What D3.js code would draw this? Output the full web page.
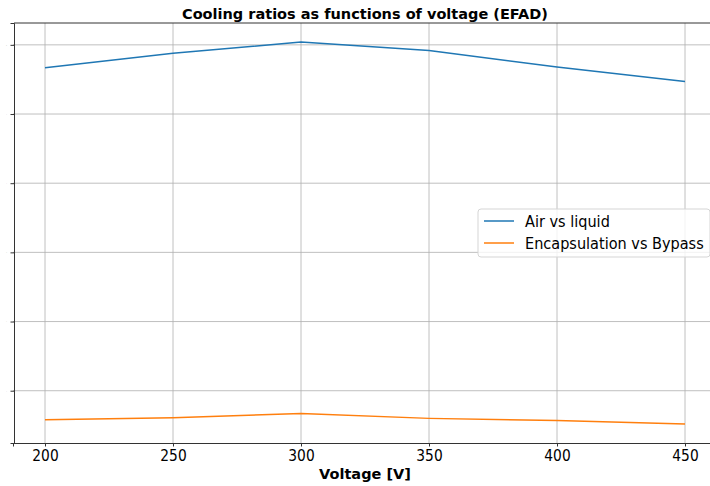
<!DOCTYPE html>
<html>
<head>
<meta charset="utf-8">
<script src="https://cdn.jsdelivr.net/npm/d3@7"></script>
<style>
  html, body { margin: 0; padding: 0; background: #fff; }
  svg { display: block; font-family: "DejaVu Sans", sans-serif; }
</style>
</head>
<body>
<svg id="chart" width="710" height="486"></svg>
<script>
// Voltage sweep and the two cooling-ratio series
const voltages = [200, 250, 300, 350, 400, 450];
const airVsLiquid = [5.67, 5.88, 6.04, 5.92, 5.68, 5.47];
const encapsulationVsBypass = [0.58, 0.61, 0.67, 0.60, 0.57, 0.52];
const seriesNames = ["Air vs liquid", "Encapsulation vs Bypass"];
const seriesColors = ["#1f77b4", "#ff7f0e"];
const xTicks = [200, 250, 300, 350, 400, 450];
const yTicks = [1, 2, 3, 4, 5, 6];

const svg = d3.select("#chart");
const plotLeft = 13, plotRight = 717, plotTop = 23, plotBottom = 443;
const textStretch = 1.12; // slightly tall glyphs for tick and legend labels

// 5% padding around the data range on both axes
const xMin = d3.min(voltages), xMax = d3.max(voltages);
const xPad = (xMax - xMin) * 0.05;
const x = d3.scaleLinear().domain([xMin - xPad, xMax + xPad]).range([plotLeft, plotRight]);

const allY = airVsLiquid.concat(encapsulationVsBypass);
const yMin = d3.min(allY), yMax = d3.max(allY);
const yPad = (yMax - yMin) * 0.05;
const y = d3.scaleLinear().domain([yMin - yPad, yMax + yPad]).range([plotBottom, plotTop]);

// grid
const grid = svg.append("g");
grid.selectAll(".gx").data(xTicks).join("line")
  .attr("x1", d => x(d)).attr("x2", d => x(d))
  .attr("y1", plotTop).attr("y2", plotBottom)
  .attr("stroke", "#b0b0b0").attr("stroke-width", 0.8);
grid.selectAll(".gy").data(yTicks).join("line")
  .attr("x1", plotLeft).attr("x2", plotRight)
  .attr("y1", d => y(d)).attr("y2", d => y(d))
  .attr("stroke", "#b0b0b0").attr("stroke-width", 0.8);

// series lines
const series = [airVsLiquid, encapsulationVsBypass];
const line = d3.line().x((d, i) => x(voltages[i])).y(d => y(d));
series.forEach((vals, k) => {
  svg.append("path").datum(vals)
    .attr("d", line)
    .attr("fill", "none")
    .attr("stroke", seriesColors[k])
    .attr("stroke-width", 1.5);
});

// axes
const xAxis = d3.axisBottom(x).tickValues(xTicks).tickSize(3.5).tickPadding(2.5).tickFormat(d3.format("d"));
const gx = svg.append("g").attr("transform", `translate(0,${plotBottom})`).call(xAxis);
gx.select(".domain").attr("stroke", "#333").attr("stroke-width", 1);
gx.selectAll(".tick line").attr("stroke", "#333");
gx.selectAll(".tick text").attr("font-size", 13.8).attr("fill", "#000")
  .attr("font-family", "DejaVu Sans, sans-serif")
  .attr("transform", `scale(1,${textStretch})`);

const yAxis = d3.axisLeft(y).tickValues(yTicks).tickSize(3.5).tickPadding(3.5).tickFormat(d3.format("d"));
const gy = svg.append("g").attr("transform", `translate(${plotLeft + 1},0)`).call(yAxis);
gy.select(".domain").attr("stroke", "#333").attr("stroke-width", 1);
gy.selectAll(".tick line").attr("stroke", "#333");
gy.selectAll(".tick text").attr("font-size", 1).attr("fill", "#888")
  .attr("font-family", "DejaVu Sans, sans-serif");

// top spine
svg.append("line").attr("x1", plotLeft + 1).attr("x2", plotRight).attr("y1", plotTop).attr("y2", plotTop)
  .attr("stroke", "#333").attr("stroke-width", 1);

// title and axis label
svg.append("text").attr("x", (plotLeft + plotRight) / 2).attr("y", 19)
  .attr("text-anchor", "middle").attr("font-size", 14.5).attr("font-weight", "bold")
  .text("Cooling ratios as functions of voltage (EFAD)");
svg.append("text").attr("x", (plotLeft + plotRight) / 2).attr("y", 479)
  .attr("text-anchor", "middle").attr("font-size", 14.5).attr("font-weight", "bold")
  .text("Voltage [V]");

// legend
const lg = svg.append("g").attr("transform", "translate(478,209)");
lg.append("rect").attr("width", 232).attr("height", 48).attr("rx", 3)
  .attr("fill", "#fff").attr("fill-opacity", 0.8)
  .attr("stroke", "#d5d5d5").attr("stroke-width", 1);
seriesNames.forEach((name, k) => {
  const yy = 12 + k * 22;
  lg.append("line").attr("x1", 6).attr("x2", 36).attr("y1", yy).attr("y2", yy)
    .attr("stroke", seriesColors[k]).attr("stroke-width", 1.5);
  lg.append("text").attr("transform", `translate(47,${yy + 5.5}) scale(1,${textStretch})`)
    .attr("font-size", 14.5).attr("fill", "#000").text(name);
});
</script>
</body>
</html>
